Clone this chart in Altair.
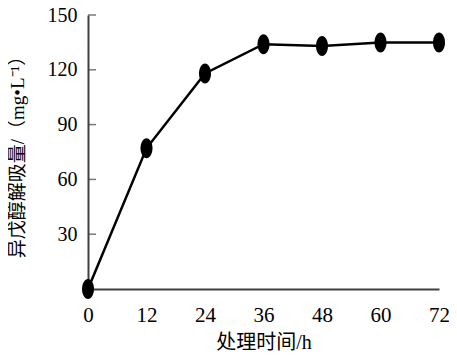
import altair as alt
import pandas as pd

hours = [0, 12, 24, 36, 48, 60, 72]
uptake = [0, 77, 118, 134, 133, 135, 135]
y_ticks = [30, 60, 90, 120, 150]
x_ticks = [0, 12, 24, 36, 48, 60, 72]

df = pd.DataFrame({"h": hours, "v": uptake})
tick_df = pd.DataFrame({"t": y_ticks})

FONT = "Liberation Serif, 'Noto Sans CJK SC'"
AX = "#404040"

x = alt.X("h:Q", scale=alt.Scale(domain=[0, 72], nice=False, padding=0),
          axis=alt.Axis(values=x_ticks, title="处理时间/h", ticks=False,
                        grid=False, labelPadding=15, titlePadding=7,
                        labelFontSize=21, titleFontSize=20, labelFlush=False,
                        domainColor=AX, domainWidth=2))
y = alt.Y("v:Q", scale=alt.Scale(domain=[0, 150], nice=False, padding=0),
          axis=alt.Axis(values=y_ticks, title="异戊醇解吸量/（mg•L⁻¹）",
                        ticks=False, grid=False, labelPadding=11,
                        titlePadding=20, labelFontSize=20, titleFontSize=19,
                        labelFlush=False,
                        domainColor=AX, domainWidth=2))

line = alt.Chart(df).mark_line(color="black", strokeWidth=2.5).encode(x=x, y=y)
pts = alt.Chart(df).mark_point(
    shape="M0,-1A0.6,1 0 1,1 0,1A0.6,1 0 1,1 0,-1Z",
    size=400, filled=True, color="black", opacity=1,
).encode(x="h:Q", y="v:Q")
ticks = alt.Chart(tick_df).mark_tick(
    color=AX, thickness=1.5, size=8, orient="horizontal", xOffset=4
).encode(x=alt.datum(0), y="t:Q")

chart = alt.layer(line, ticks, pts).properties(
    width=351, height=274,
    autosize=alt.AutoSizeParams(type="none"),
    padding={"left": 80, "top": 7, "right": 10, "bottom": 63},
).configure_view(stroke=None).configure_axis(
    labelFont=FONT, titleFont=FONT,
    labelColor="black", titleColor="black", titleFontWeight="normal",
)

chart.save("out.html", embed_options={"renderer": "svg", "actions": False})
